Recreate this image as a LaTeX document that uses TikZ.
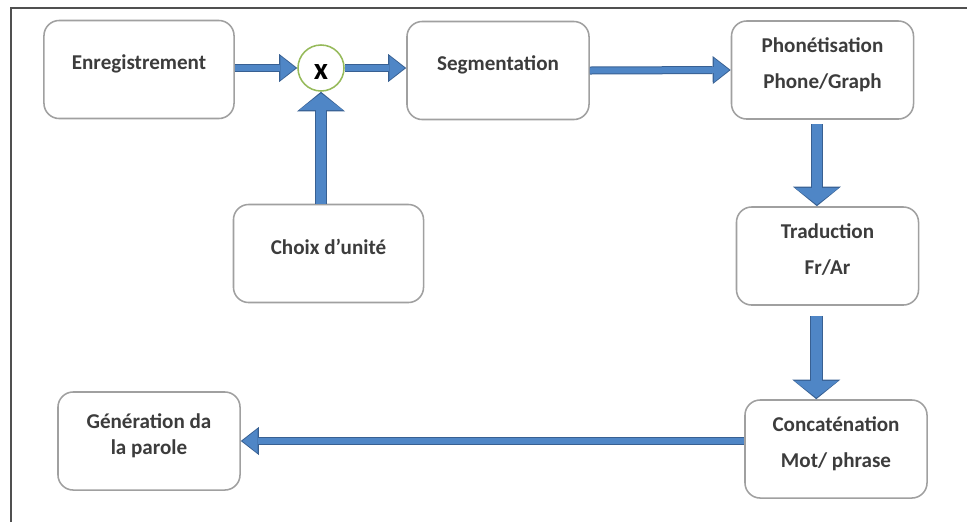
\documentclass[tikz,border=0pt]{standalone}
\usepackage{fontspec}
\setmainfont{Carlito}
\usetikzlibrary{arrows.meta}
\definecolor{flowblue}{RGB}{79,134,198}
\definecolor{flowedge}{RGB}{56,96,146}
\definecolor{boxgray}{RGB}{160,160,160}
\definecolor{textgray}{RGB}{60,60,60}
\definecolor{mixgreen}{RGB}{150,186,90}
\definecolor{framegray}{RGB}{80,80,80}
\begin{document}
\begin{tikzpicture}[x=0.025cm, y=-0.025cm, font=\fontsize{15pt}{18pt}\selectfont\bfseries]
    % Define styles
    \tikzset{
        box/.style={
            draw=boxgray,
            line width=1.1pt,
            rounded corners=0.38cm,
            minimum width=4.55cm,
            minimum height=2.45cm,
            text depth=0.35cm,
            align=center,
            text=textgray
        },
        mixer/.style={
            draw=mixgreen,
            line width=1.1pt,
            circle,
            minimum size=1.15cm,
            inner sep=0pt,
            text height=0.55cm,
            font=\fontsize{22pt}{22pt}\selectfont\bfseries
        },
        flow/.style={
            draw=flowblue,
            line width=0.15cm,
            -{Triangle[length=0.38cm, width=0.6cm, line width=0pt]},
            shorten >=0.04cm,
            preaction={draw=flowedge, line width=0.2cm,
                -{Triangle[length=0.45cm, width=0.7cm, line width=0pt]},
                shorten >=0pt}
        },
        bigflow/.style={
            draw=flowblue,
            line width=0.27cm,
            -{Triangle[length=0.42cm, width=1.1cm, line width=0pt]},
            shorten >=0.04cm,
            preaction={draw=flowedge, line width=0.32cm,
                -{Triangle[length=0.49cm, width=1.2cm, line width=0pt]},
                shorten >=0pt}
        }
    }
    \useasboundingbox (0,0) rectangle (967,522);

    % Frame
    \draw[framegray, line width=1.1pt] (11,522) -- (11,8) -- (967,8);

    % Top row
    \node[box, minimum width=4.75cm] (enr) at (139,69.5) {Enregistrement};
    \node[mixer] (mix) at (321,68) {x};
    \node[box] (seg) at (498,70.5) {Segmentation};
    \node[box] (phon) at (822.5,70) {Phonétisation\\[8pt]Phone/Graph};

    % Unit choice
    \node[box, minimum width=4.75cm] (choix) at (328.5,253.5) {Choix d’unité};

    % Right column
    \node[box] (trad) at (827.5,256) {Traduction\\[8pt]Fr/Ar};
    \node[box] (conc) at (836,449) {Concaténation\\[8pt]Mot/ phrase};

    % Output
    \node[box] (gen) at (149,441) {Génération da\\la parole};

    % Connect the chain
    \draw[flow] (enr.east |- mix.west) -- (mix.west);
    \draw[flow] (mix.east) -- (seg.west |- mix.east);
    \draw[bigflow] (choix.north -| mix.south) -- (mix.south);
    \draw[flow] (seg.east) -- (phon.west);
    \draw[bigflow, shorten <=3pt] ([xshift=-0.14cm]phon.south) -- ([xshift=-0.14cm]phon.south |- trad.north);
    \draw[bigflow, shorten <=0.25cm] ([xshift=-0.28cm]trad.south) -- ([xshift=-0.28cm]trad.south |- conc.north);
    \draw[flow] (conc.west |- gen.east) -- (gen.east);

\end{tikzpicture}
\end{document}
